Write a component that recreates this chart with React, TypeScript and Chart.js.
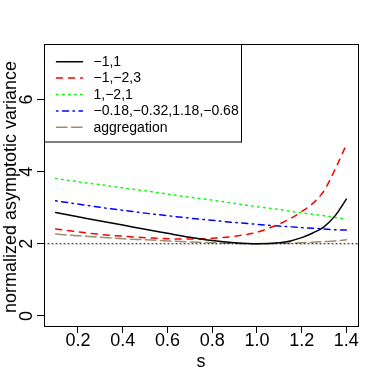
import React, { useEffect, useRef } from "react";
import { Chart, registerables } from "chart.js";

Chart.register(...registerables);

// ---- data ----
const sValues = [0.1, 0.2, 0.3, 0.4, 0.5, 0.6, 0.7, 0.8, 0.9, 1.0, 1.1, 1.15, 1.2, 1.25, 1.3, 1.35, 1.4];
const seriesBlack = [2.87, 2.75, 2.63, 2.52, 2.4, 2.29, 2.18, 2.09, 2.03, 2.0, 2.03, 2.08, 2.17, 2.3, 2.47, 2.78, 3.24];
const seriesRed = [2.41, 2.33, 2.26, 2.21, 2.17, 2.14, 2.13, 2.15, 2.21, 2.32, 2.55, 2.7, 2.89, 3.12, 3.47, 4.07, 4.75];
const seriesGreen = [3.81, 3.72, 3.64, 3.55, 3.47, 3.38, 3.29, 3.21, 3.12, 3.03, 2.95, 2.9, 2.86, 2.82, 2.78, 2.73, 2.69];
const seriesBlue = [3.19, 3.1, 3.01, 2.93, 2.85, 2.78, 2.71, 2.65, 2.59, 2.54, 2.49, 2.47, 2.45, 2.43, 2.41, 2.39, 2.38];
const seriesBrown = [2.27, 2.22, 2.18, 2.14, 2.11, 2.08, 2.05, 2.03, 2.01, 2.0, 2.01, 2.02, 2.03, 2.04, 2.06, 2.08, 2.11];
const seriesLabels = ["\u22121,1", "\u22121,\u22122,3", "1,\u22122,1", "\u22120.18,\u22120.32,1.18,\u22120.68", "aggregation"];
const xTicks = [0.2, 0.4, 0.6, 0.8, 1.0, 1.2, 1.4];
const yTicks = [0, 2, 4, 6];
const refLevel = 2;
const xTitle = "s";
const yTitle = "normalized asymptotic variance";
const xRange = [0.048, 1.452];
const yRange = [-0.28, 7.54];

const FONT = '"Liberation Sans", Arial, Helvetica, sans-serif';

const styles = [
  { color: "#000000", dash: [] as number[] },
  { color: "#FF0000", dash: [6, 6] },
  { color: "#00FF00", dash: [1.5, 4.5] },
  { color: "#0000FF", dash: [1.5, 4.5, 6, 4.5] },
  { color: "#A08A70", dash: [10.5, 4.5] },
];

const allSeries = [seriesBlack, seriesRed, seriesGreen, seriesBlue, seriesBrown];

const decorPlugin = {
  id: "rDecor",
  afterDraw(chart: any) {
    const ctx = chart.ctx as CanvasRenderingContext2D;
    const ca = chart.chartArea;
    const yScale = chart.scales.y;
    ctx.save();
    // box
    ctx.strokeStyle = "#000";
    ctx.lineWidth = 1;
    ctx.setLineDash([]);
    ctx.strokeRect(Math.round(ca.left) + 0.5, Math.round(ca.top) + 0.5, Math.round(ca.right - ca.left), Math.round(ca.bottom - ca.top));

    // y tick labels (rotated like R)
    ctx.fillStyle = "#000";
    ctx.font = `18px ${FONT}`;
    ctx.textAlign = "center";
    ctx.textBaseline = "alphabetic";
    for (const v of yTicks) {
      const py = yScale.getPixelForValue(v);
      ctx.save();
      ctx.translate(32, py);
      ctx.rotate(-Math.PI / 2);
      ctx.fillText(String(v), 0, 0);
      ctx.restore();
    }
    // y title
    ctx.save();
    ctx.translate(16, (ca.top + ca.bottom) / 2 + 2);
    ctx.rotate(-Math.PI / 2);
    ctx.fillText(yTitle, 0, 0);
    ctx.restore();
    // x title
    ctx.fillText(xTitle, (ca.left + ca.right) / 2, 367);

    // legend
    const lx0 = Math.round(ca.left) + 0.5;
    const ly0 = Math.round(ca.top) + 0.5;
    const lw = 197;
    const lh = 97.5;
    ctx.fillStyle = "#fff";
    ctx.fillRect(lx0, ly0, lw, lh);
    ctx.strokeStyle = "#000";
    ctx.lineWidth = 1;
    ctx.strokeRect(lx0, ly0, lw, lh);
    ctx.font = `14px ${FONT}`;
    ctx.textAlign = "left";
    ctx.textBaseline = "middle";
    seriesLabels.forEach((lab, i) => {
      const y = ly0 + 17.2 + i * 16.4;
      ctx.strokeStyle = styles[i].color;
      ctx.lineWidth = 1.5;
      ctx.lineCap = "round";
      ctx.setLineDash(styles[i].dash);
      ctx.beginPath();
      ctx.moveTo(lx0 + 12, y);
      ctx.lineTo(lx0 + 38, y);
      ctx.stroke();
      ctx.setLineDash([]);
      ctx.fillStyle = "#000";
      ctx.fillText(lab, lx0 + 49, y + 0.5);
    });
    ctx.restore();
  },
};

export default function App() {
  const ref = useRef<HTMLCanvasElement>(null);
  useEffect(() => {
    if (!ref.current) return;
    const datasets: any[] = allSeries.map((vals, i) => ({
      label: seriesLabels[i],
      data: sValues.map((s, j) => ({ x: s, y: vals[j] })),
      borderColor: styles[i].color,
      borderWidth: 1.5,
      borderDash: styles[i].dash,
      borderCapStyle: "round",
      pointRadius: 0,
      fill: false,
      cubicInterpolationMode: "monotone",
    }));
    datasets.unshift({
      label: "ref",
      data: [
        { x: xRange[0], y: refLevel },
        { x: xRange[1], y: refLevel },
      ],
      borderColor: "#000",
      borderWidth: 1,
      borderDash: [1, 3],
      borderCapStyle: "round",
      pointRadius: 0,
      fill: false,
    });
    const chart = new Chart(ref.current, {
      type: "line",
      data: { datasets },
      plugins: [decorPlugin],
      options: {
        animation: false,
        responsive: false,
        devicePixelRatio: 1,
        layout: { padding: { top: 44, right: 24, left: 0, bottom: 0 } },
        plugins: { legend: { display: false }, tooltip: { enabled: false } },
        scales: {
          x: {
            type: "linear",
            min: xRange[0],
            max: xRange[1],
            afterBuildTicks: (scale: any) => {
              scale.ticks = xTicks.map((v) => ({ value: v }));
            },
            afterFit: (scale: any) => {
              scale.height = 56;
            },
            ticks: {
              color: "#000",
              font: { family: FONT, size: 18 },
              padding: -3,
              maxRotation: 0,
              autoSkip: false,
              callback: (v: any) => Number(v).toFixed(1),
            },
            grid: { drawOnChartArea: false, drawTicks: true, tickLength: 7, color: "#000", lineWidth: 1 },
            border: { display: false },
          },
          y: {
            type: "linear",
            min: yRange[0],
            max: yRange[1],
            afterBuildTicks: (scale: any) => {
              scale.ticks = yTicks.map((v) => ({ value: v }));
            },
            afterFit: (scale: any) => {
              scale.width = 44;
            },
            ticks: { display: false },
            grid: { drawOnChartArea: false, drawTicks: true, tickLength: 7, color: "#000", lineWidth: 1 },
            border: { display: false },
          },
        },
      } as any,
    });
    return () => chart.destroy();
  }, []);
  return (
    <canvas
      ref={ref}
      width={382}
      height={382}
      style={{ position: "absolute", left: 0, top: 0, display: "block", background: "#fff" }}
    />
  );
}
